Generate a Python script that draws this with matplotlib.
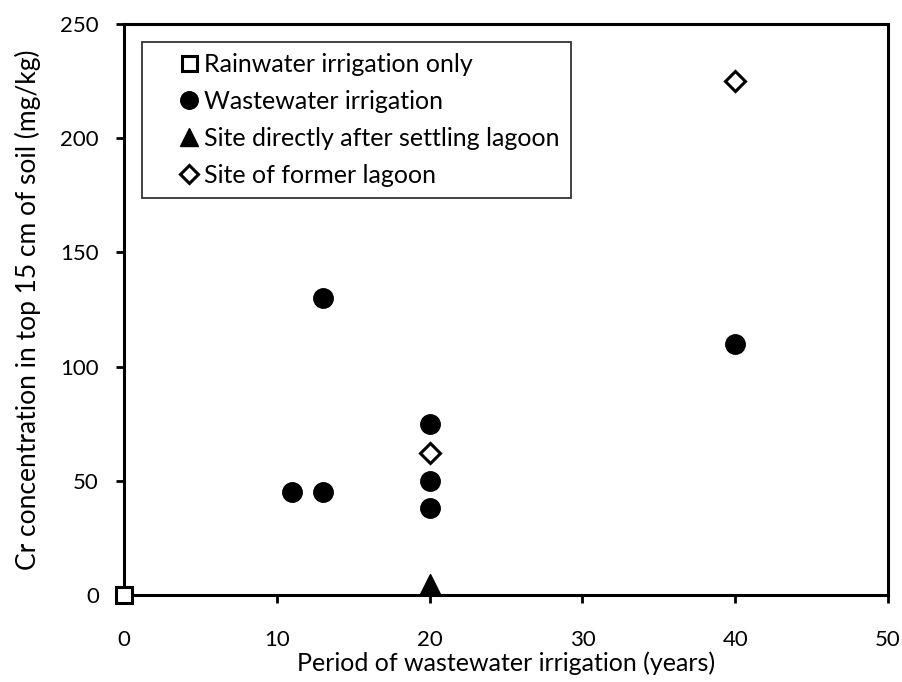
import matplotlib.pyplot as plt

plt.rcParams['font.family'] = ['Lato', 'DejaVu Sans']
plt.rcParams['font.size'] = 16

rain_x = [0]
rain_y = [0]

waste_x = [11, 13, 13, 20, 20, 20, 40]
waste_y = [45, 45, 130, 75, 50, 38, 110]

lagoon_after_x = [20]
lagoon_after_y = [5]

former_x = [20, 40]
former_y = [62, 225]

fig = plt.figure(figsize=(9.02, 6.82), dpi=100)
ax = fig.add_axes([0.1375, 0.1276, 0.847, 0.837])

ax.plot(rain_x, rain_y, linestyle='none', marker='s', markersize=12,
        markerfacecolor='white', markeredgecolor='black', markeredgewidth=2.2,
        label='Rainwater irrigation only', clip_on=False, zorder=5)
ax.plot(waste_x, waste_y, linestyle='none', marker='o', markersize=14,
        color='black', label='Wastewater irrigation', clip_on=False, zorder=5)
ax.plot(lagoon_after_x, lagoon_after_y, linestyle='none', marker='^', markersize=15,
        color='black', label='Site directly after settling lagoon', clip_on=False, zorder=5)
ax.plot(former_x, former_y, linestyle='none', marker='D', markersize=10,
        markerfacecolor='white', markeredgecolor='black', markeredgewidth=2.2,
        label='Site of former lagoon', clip_on=False, zorder=5)

ax.set_xlim(0, 50)
ax.set_ylim(0, 250)
ax.set_xticks([0, 10, 20, 30, 40, 50])
ax.set_yticks([0, 50, 100, 150, 200, 250])

for s in ax.spines.values():
    s.set_linewidth(2.2)
ax.tick_params(direction='out', length=6, width=2, labelsize=16)
ax.tick_params(axis='x', pad=19)
ax.tick_params(axis='y', pad=12)

ax.set_xlabel('Period of wastewater irrigation (years)', fontsize=18, labelpad=1)
ax.set_ylabel('Cr concentration in top 15 cm of soil (mg/kg)', fontsize=19, labelpad=14)

leg = ax.legend(loc='upper left', bbox_to_anchor=(0.023, 0.969), fontsize=18,
                frameon=True, fancybox=False, handletextpad=-0.84, handlelength=2.88,
                borderpad=0.45, labelspacing=0.56, markerscale=0.9,
                borderaxespad=0)
leg.get_frame().set_edgecolor('black')
leg.get_frame().set_linewidth(1.3)

fig.savefig('out.png', dpi=100)
